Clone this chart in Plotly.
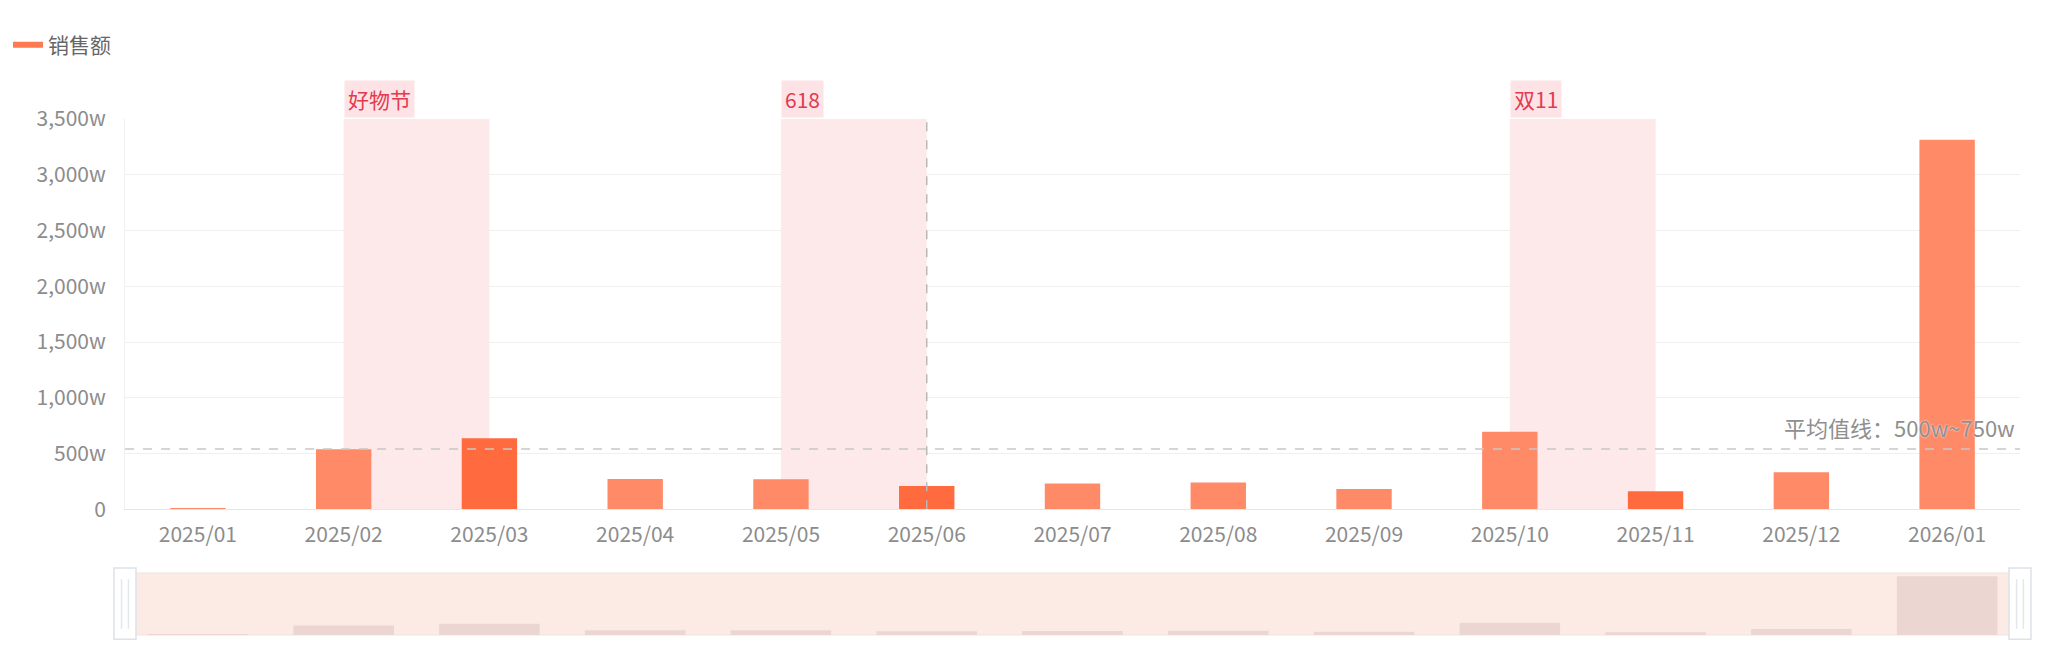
import plotly.graph_objects as go

# monthly sales (unit: 万)
months = ['2025/01', '2025/02', '2025/03', '2025/04', '2025/05', '2025/06', '2025/07',
          '2025/08', '2025/09', '2025/10', '2025/11', '2025/12', '2026/01']
sales = [3, 538, 637, 272, 269, 209, 231, 240, 182, 695, 162, 332, 3314]
dark_months = ['2025/03', '2025/06', '2025/11']

# promotion periods: (label, start, end)
promo_names = ['好物节', '618', '双11']
promo_start = ['2025/02', '2025/05', '2025/10']
promo_end = ['2025/03', '2025/06', '2025/11']

avg_value = 540
avg_text = '平均值线：500w~750w'
pointer_month = '2025/06'

y_ticks = [0, 500, 1000, 1500, 2000, 2500, 3000, 3500]
y_labels = ['0', '500w', '1,000w', '1,500w', '2,000w', '2,500w', '3,000w', '3,500w']

FONT = 'Noto Sans CJK SC'
LIGHT = '#ff8a68'
DARK = '#ff6b3f'
GRAY = '#8c8c8c'

# page body adds an 8px offset, so the figure is sized to compensate
W, H = 2040, 643

bar_colors = [DARK if m in dark_months else LIGHT for m in months]

fig = go.Figure()

fig.add_trace(go.Bar(
    x=months, y=sales, width=0.38,
    marker=dict(color=bar_colors, line=dict(width=0)),
    showlegend=False,
    hovertemplate='%{x}<br>销售额: %{y}w<extra></extra>'
))

# legend entry drawn as a line, like the original
fig.add_trace(go.Scatter(
    x=[None], y=[None], mode='lines', name='销售额',
    line=dict(color='#ff7a50', width=6)
))

# mini bars inside the data-zoom strip
fig.add_trace(go.Bar(
    x=months, y=sales, width=0.69, xaxis='x2', yaxis='y2',
    marker=dict(color='#ecd6d1', line=dict(width=0)),
    showlegend=False, hoverinfo='skip'
))

shapes = []
annotations = []

# promotion bands and labels
for name, s, e in zip(promo_names, promo_start, promo_end):
    shapes.append(dict(type='rect', xref='x', yref='y', x0=s, x1=e, y0=0, y1=3500,
                       fillcolor='#fde8ea', line=dict(width=0), layer='between'))
    annotations.append(dict(x=s, y=3500, xref='x', yref='y', text=name, showarrow=False,
                            xanchor='left', yanchor='bottom', yshift=1, xshift=0,
                            bgcolor='#fde3e6', borderpad=3,
                            font=dict(family=FONT, size=21, color='#e23a4e')))

# average line
shapes.append(dict(type='line', xref='x domain', yref='y', x0=0, x1=1, y0=avg_value, y1=avg_value,
                   line=dict(color='#c8c8c8', width=1.5, dash='dash'), layer='above'))
annotations.append(dict(x=1, y=avg_value, xref='x domain', yref='y', text=avg_text,
                        showarrow=False, xanchor='right', yanchor='bottom', xshift=-3, yshift=4,
                        font=dict(family=FONT, size=22, color='#8f8f8f',
                                  shadow='0 0 2px white')))

# axis pointer
shapes.append(dict(type='line', xref='x', yref='y', x0=pointer_month, x1=pointer_month,
                   y0=0, y1=3500, line=dict(color='#b8b8b8', width=1.5, dash='dash'),
                   layer='above'))

# data-zoom strip background and handles
shapes.append(dict(type='rect', xref='x2 domain', yref='y2 domain', x0=0, x1=1, y0=0, y1=1,
                   fillcolor='#fcebe5', line=dict(color='#efe3e0', width=1), layer='below'))
for hx in [0.0, 1.0]:
    shapes.append(dict(type='rect', xref='x2 domain', yref='y2 domain',
                       x0=hx - 0.0058, x1=hx + 0.0058, y0=-0.07, y1=1.08,
                       fillcolor='white', line=dict(color='#dde2e8', width=1.5), layer='above'))
    for dx in [-0.0018, 0.0018]:
        shapes.append(dict(type='line', xref='x2 domain', yref='y2 domain',
                           x0=hx + dx, x1=hx + dx, y0=0.1, y1=0.9,
                           line=dict(color='#e3e7ec', width=1.5), layer='above'))

fig.update_layout(
    width=W, height=H,
    margin=dict(l=117, r=28, t=111, b=16, autoexpand=False),
    paper_bgcolor='white', plot_bgcolor='white',
    font=dict(family=FONT, color=GRAY, size=21),
    bargap=0.2,
    shapes=shapes,
    annotations=annotations,
    showlegend=True,
    legend=dict(xref='container', yref='container', x=0.0, y=1 - 37 / H,
                xanchor='left', yanchor='middle', orientation='h',
                font=dict(family=FONT, size=21, color='#666666'),
                itemwidth=30, bgcolor='rgba(0,0,0,0)'),
    xaxis=dict(type='category', categoryorder='array', categoryarray=months,
               domain=[0, 1], showgrid=False, showline=True, linecolor='#e6e6e6', linewidth=1,
               ticks='outside', ticklen=6, tickcolor='rgba(0,0,0,0)',
               tickfont=dict(family=FONT, size=21, color=GRAY), anchor='y',
               range=[-0.5, 12.5], fixedrange=True),
    yaxis=dict(domain=[0.2436, 1], range=[0, 3500], tickvals=y_ticks, ticktext=y_labels,
               showgrid=True, gridcolor='#f0f0f0', gridwidth=1, zeroline=False,
               showline=True, linecolor='#f0f0f0',
               ticks='outside', ticklen=14, tickcolor='rgba(0,0,0,0)',
               tickfont=dict(family=FONT, size=21, color=GRAY), fixedrange=True),
    xaxis2=dict(type='category', categoryorder='array', categoryarray=months, matches='x',
                anchor='y2', showticklabels=False, showgrid=False, showline=False,
                ticks='', range=[-0.5, 12.5]),
    yaxis2=dict(domain=[0, 0.1202], range=[0, 3500], showticklabels=False, showgrid=False,
                zeroline=False, showline=False, ticks=''),
)

fig.write_html('out.html')
